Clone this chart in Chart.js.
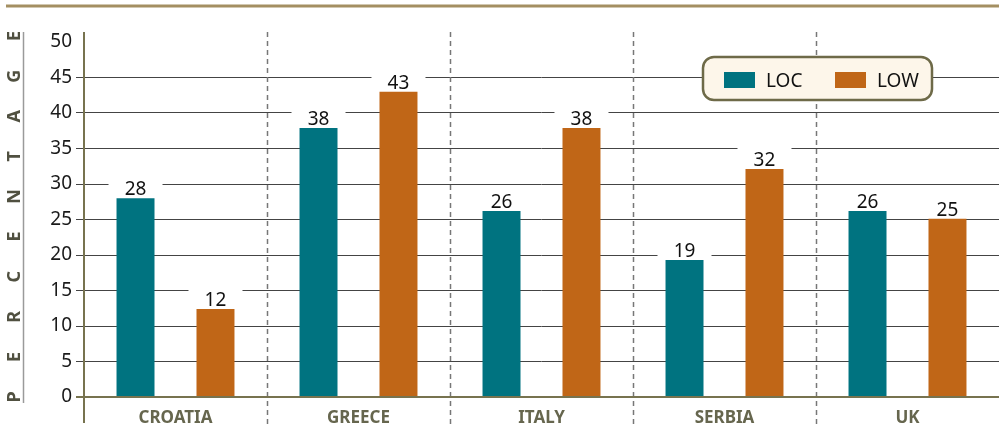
<!DOCTYPE html>
<html>
<head>
<meta charset="utf-8">
<script src="https://cdn.jsdelivr.net/npm/chart.js@4"></script>
<style>
html,body{margin:0;padding:0;background:#fff;}
canvas{display:block;}
</style>
</head>
<body>
<canvas id="c" width="999" height="432"></canvas>
<script>
const categories = ['CROATIA', 'GREECE', 'ITALY', 'SERBIA', 'UK'];
const seriesNames = ['LOC', 'LOW'];
const locValues = [28, 37.9, 26.2, 19.3, 26.2];
const lowValues = [12.4, 43, 37.9, 32.1, 25.1];
const yMin = 0, yMax = 50, yStep = 5;
const yTitle = 'PERCENTAGE';

const TEAL = '#007380';
const ORANGE = '#c06617';
const OLIVE = '#77734f';
const FONT = "'Noto Sans', 'Open Sans', sans-serif";

const decor = {
  id: 'decor',
  beforeDatasetsDraw(chart) {
    const ctx = chart.ctx, x = chart.scales.x;
    ctx.save();
    ctx.strokeStyle = '#777';
    ctx.lineWidth = 1.5;
    ctx.setLineDash([5, 4]);
    for (let i = 0; i < categories.length - 1; i++) {
      const px = Math.round((x.getPixelForValue(i) + x.getPixelForValue(i + 1)) / 2) + 0.5;
      ctx.beginPath();
      ctx.moveTo(px, 32);
      ctx.lineTo(px, 426);
      ctx.stroke();
    }
    ctx.restore();
  },
  afterDatasetsDraw(chart) {
    const ctx = chart.ctx;
    ctx.save();
    ctx.font = '19px ' + FONT;
    ctx.textAlign = 'center';
    ctx.textBaseline = 'alphabetic';
    chart.data.datasets.forEach((ds, di) => {
      const meta = chart.getDatasetMeta(di);
      meta.data.forEach((bar, i) => {
        const txt = String(Math.round(ds.data[i]));
        const cx = bar.x;
        const top = bar.y;
        ctx.fillStyle = '#fff';
        ctx.fillRect(cx - 27, top - 22, 54, 21);
        ctx.fillStyle = '#111';
        ctx.fillText(txt, cx, top - 3);
      });
    });
    ctx.restore();
  },
  afterDraw(chart) {
    const ctx = chart.ctx, area = chart.chartArea, y = chart.scales.y;
    ctx.save();
    ctx.strokeStyle = '#a48f62';
    ctx.lineWidth = 3;
    ctx.beginPath();
    ctx.moveTo(6, 6);
    ctx.lineTo(999, 6);
    ctx.stroke();
    const y0 = Math.round(y.getPixelForValue(0));
    ctx.strokeStyle = OLIVE;
    ctx.lineWidth = 2;
    ctx.beginPath();
    ctx.moveTo(76, y0);
    ctx.lineTo(999, y0);
    ctx.stroke();
    ctx.beginPath();
    ctx.moveTo(area.left, 32);
    ctx.lineTo(area.left, 423);
    ctx.stroke();
    ctx.strokeStyle = '#9a9a9a';
    ctx.lineWidth = 1.5;
    ctx.beginPath();
    ctx.moveTo(23.5, 32);
    ctx.lineTo(23.5, 403);
    ctx.stroke();
    ctx.fillStyle = '#505040';
    ctx.font = 'bold 18px ' + FONT;
    ctx.textAlign = 'center';
    ctx.textBaseline = 'middle';
    const letters = yTitle.split('');
    const yStart = 397, yEnd = 36;
    letters.forEach((ch, i) => {
      const py = yStart - (yStart - yEnd) * i / (letters.length - 1);
      ctx.save();
      ctx.translate(14, py);
      ctx.rotate(-Math.PI / 2);
      ctx.fillText(ch, 0, 1);
      ctx.restore();
    });
    ctx.beginPath();
    ctx.roundRect(703, 57, 229, 43, 11);
    ctx.fillStyle = '#fdf6ea';
    ctx.fill();
    ctx.strokeStyle = '#6e6a48';
    ctx.lineWidth = 2.5;
    ctx.stroke();
    const colors = [TEAL, ORANGE];
    const sx = [724, 835];
    ctx.font = '19px ' + FONT;
    ctx.textAlign = 'left';
    ctx.textBaseline = 'alphabetic';
    seriesNames.forEach((n, i) => {
      ctx.fillStyle = colors[i];
      ctx.fillRect(sx[i], 72, 31, 16);
      ctx.fillStyle = '#111';
      ctx.fillText(n, sx[i] + 42, 87);
    });
    ctx.restore();
  }
};

new Chart(document.getElementById('c'), {
  type: 'bar',
  data: {
    labels: categories,
    datasets: [
      { label: seriesNames[0], data: locValues, backgroundColor: TEAL, borderWidth: 0 },
      { label: seriesNames[1], data: lowValues, backgroundColor: ORANGE, borderWidth: 0 }
    ]
  },
  options: {
    responsive: false,
    devicePixelRatio: 1,
    animation: false,
    datasets: { bar: { categoryPercentage: 0.874, barPercentage: 0.475 } },
    layout: { padding: { top: 42, right: 0, left: 0, bottom: 0 } },
    plugins: { legend: { display: false }, tooltip: { enabled: false } },
    scales: {
      x: {
        grid: { display: false },
        border: { display: false },
        ticks: { color: '#66664e', font: { family: FONT, size: 17, weight: 'bold' }, padding: 3 },
        afterFit(s) { s.height = 35; }
      },
      y: {
        min: yMin, max: yMax,
        grid: {
          color: (c) => (c.tick && c.tick.value === yMax) ? 'rgba(0,0,0,0)' : '#444',
          lineWidth: 1, tickLength: 8
        },
        border: { display: false },
        ticks: { stepSize: yStep, color: '#1a1a1a', font: { family: FONT, size: 19 }, padding: 4 },
        afterFit(s) { s.width = 84; }
      }
    }
  },
  plugins: [decor]
});
</script>
</body>
</html>
